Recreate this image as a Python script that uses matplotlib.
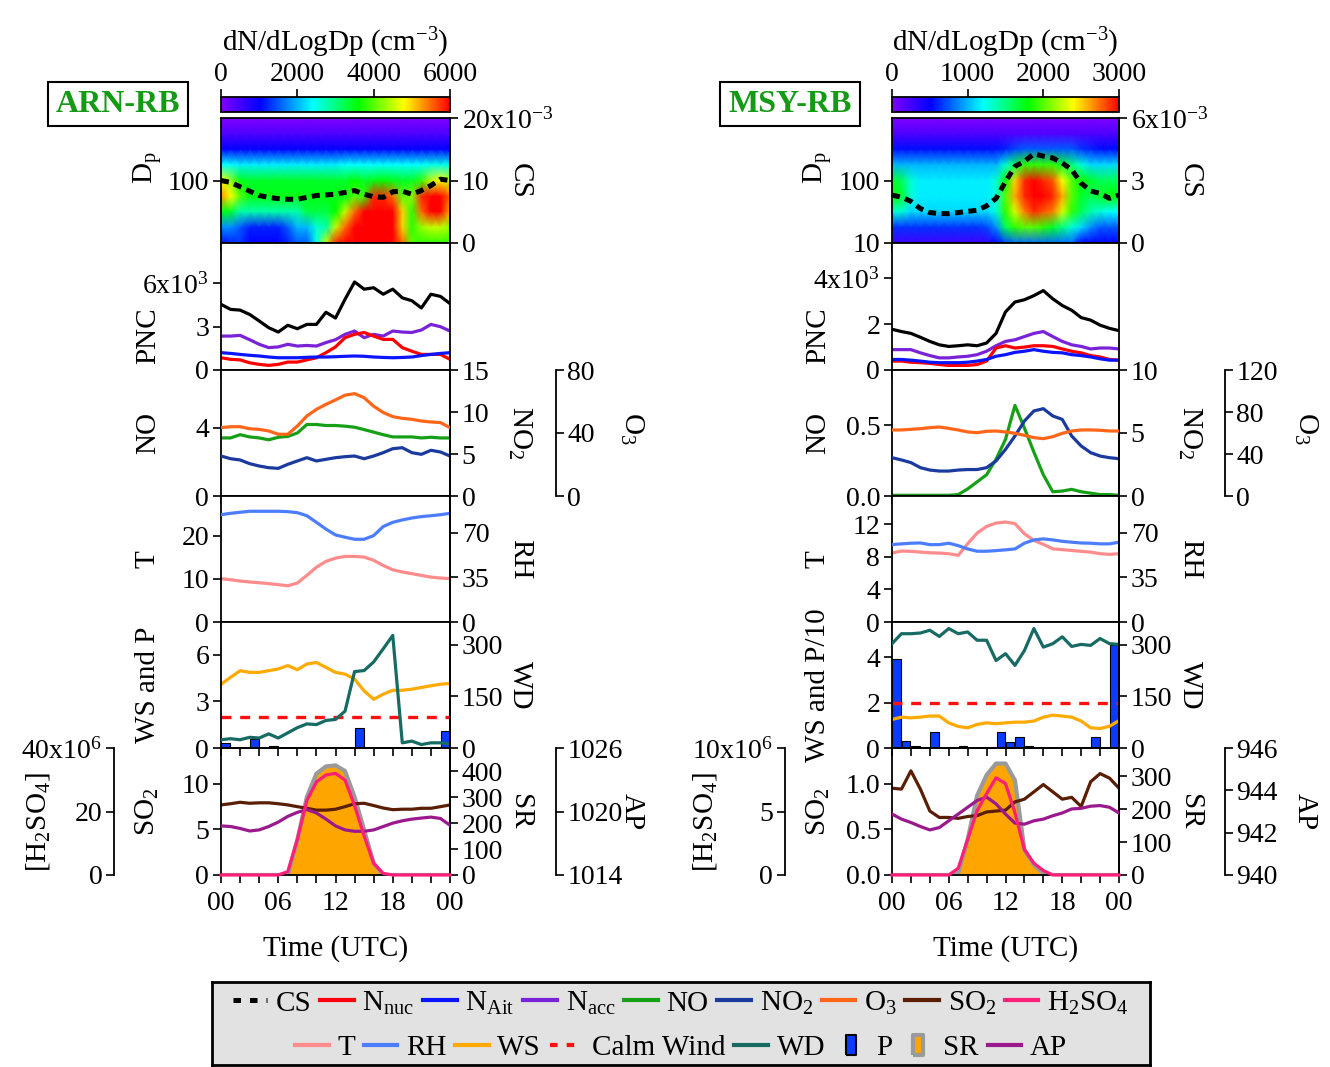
import numpy as np
import matplotlib.pyplot as plt
from matplotlib.colors import LinearSegmentedColormap
from matplotlib.lines import Line2D
from matplotlib.ticker import NullLocator

plt.rcParams['font.family'] = ['Liberation Serif', 'DejaVu Serif']
plt.rcParams['mathtext.fontset'] = 'custom'
plt.rcParams['mathtext.rm'] = 'Liberation Serif'
plt.rcParams['mathtext.it'] = 'Liberation Serif:italic'
plt.rcParams['mathtext.bf'] = 'Liberation Serif:bold'

FS = 20

# time axes (hours UTC)
hours = np.arange(25)
p_hours = np.arange(24)
dp_bins = [10, 18, 32, 56, 100, 180, 320, 560, 1000]

# ---------------- ARN-RB ----------------
# dN/dlogDp (cm-3), rows = dp_bins (small -> large), cols = hours 0..24
arn_dist = [
    [1100, 1200, 1300, 1000, 1000, 1000, 1000, 1200, 1500, 1500, 2500, 4500, 5800, 6000, 6000,
     6000, 6000, 6000, 6000, 5500, 4000, 3800, 3800, 3800, 3800],
    [1800, 1800, 1500, 1200, 1200, 1200, 1200, 1500, 2000, 2000, 2600, 2800, 4500, 5500, 6000,
     6000, 6000, 6000, 6000, 5000, 3800, 4300, 4500, 4500, 4300],
    [3500, 3400, 2800, 2800, 2800, 2800, 2800, 2800, 2800, 3300, 3300, 3300, 3600, 4500, 5500,
     6000, 6000, 6000, 6000, 5000, 3800, 5500, 6000, 6000, 5200],
    [5300, 4800, 4000, 3500, 3500, 3500, 3500, 3500, 3500, 3500, 3500, 3500, 3500, 3500, 4000,
     3800, 5800, 5800, 5500, 4000, 4200, 5800, 6000, 6000, 5500],
    [4800, 4300, 3500, 3400, 3400, 3400, 3400, 3400, 3400, 3400, 3400, 3400, 3400, 3400, 3600,
     3400, 3500, 3600, 3500, 3400, 3400, 3800, 4500, 4800, 4500],
    [2400, 2400, 2300, 2300, 2300, 2300, 2300, 2300, 2300, 2300, 2300, 2300, 2300, 2400, 2400,
     2400, 2400, 2400, 2400, 2400, 2400, 2400, 2500, 2500, 2500],
    [1000, 1000, 1000, 1000, 1000, 1000, 1000, 1000, 1000, 1000, 1000, 1000, 1000, 1000, 1000,
     1000, 1000, 1000, 1000, 1000, 1000, 1000, 1000, 1000, 1000],
    [400, 400, 400, 400, 400, 400, 400, 400, 400, 400, 400, 400, 400, 400, 400,
     400, 400, 400, 400, 400, 400, 400, 400, 400, 400],
    [0, 0, 0, 0, 0, 0, 0, 0, 0, 0, 0, 0, 0, 0, 0, 0, 0, 0, 0, 0, 0, 0, 0, 0, 0],
]
arn_cs = [10.0, 9.7, 9.0, 8.3, 7.6, 7.3, 7.1, 7.0, 7.0, 7.3, 7.6, 7.7, 7.8, 8.1, 8.4,
          7.8, 7.4, 7.3, 8.2, 8.3, 7.8, 8.4, 9.2, 10.2, 10.0]
arn_ntot = [4.55, 4.2, 4.15, 3.85, 3.4, 2.93, 2.63, 3.1, 2.86, 3.16, 3.16, 4.0, 3.6, 4.9, 6.1,
            5.6, 5.7, 5.25, 5.6, 5.0, 4.8, 4.3, 5.25, 5.1, 4.6]
arn_nnuc = [0.85, 0.74, 0.7, 0.5, 0.39, 0.32, 0.39, 0.55, 0.55, 0.7, 0.85, 1.2, 1.6, 2.24, 2.47,
            2.6, 2.35, 2.12, 2.12, 1.55, 1.3, 1.08, 1.08, 1.08, 0.74]
arn_nait = [1.2, 1.15, 1.08, 1.02, 0.97, 0.9, 0.85, 0.85, 0.85, 0.88, 0.9, 0.9, 0.92, 0.95, 0.97,
            0.95, 0.9, 0.87, 0.85, 0.87, 0.9, 1.0, 1.08, 1.15, 1.2]
arn_nacc = [2.35, 2.35, 2.4, 2.1, 1.78, 1.55, 1.6, 1.78, 1.66, 1.7, 1.66, 1.9, 2.1, 2.47, 2.7,
            2.24, 2.47, 2.35, 2.7, 2.63, 2.6, 2.77, 3.16, 3.0, 2.7]
arn_no = [3.41, 3.41, 3.6, 3.47, 3.41, 3.3, 3.45, 3.5, 3.7, 4.2, 4.2, 4.14, 4.14, 4.1, 4.04,
          3.9, 3.75, 3.6, 3.47, 3.47, 3.47, 3.41, 3.45, 3.41, 3.41]
arn_no2 = [4.76, 4.44, 4.29, 3.85, 3.57, 3.37, 3.29, 3.77, 4.17, 4.56, 4.17, 4.37, 4.56, 4.68, 4.76,
           4.44, 4.76, 5.16, 5.63, 5.75, 5.16, 4.96, 5.44, 5.24, 4.76]
arn_o3 = [43.4, 44, 44, 42.7, 42.3, 41.3, 39.2, 39.2, 44.4, 50.8, 55, 58.2, 61, 64, 65,
          62.4, 57, 53, 50.4, 49.3, 48.7, 47.6, 47, 46.6, 43.4]
arn_t = [10.04, 9.8, 9.5, 9.27, 9.1, 8.9, 8.65, 8.4, 9.03, 10.8, 12.7, 14.05, 14.8, 15.2, 15.2,
         15.05, 14.3, 13.1, 12.1, 11.6, 11.2, 10.8, 10.4, 10.2, 10.04]
arn_rh = [84.3, 85.4, 86.2, 87, 87, 87, 87, 86.7, 85.9, 83.5, 78.3, 73, 68.4, 66.6, 65,
          65, 67.9, 75, 78.3, 80.2, 81.7, 82.8, 83.5, 84.3, 85.4]
arn_ws = [4.1, 4.54, 4.97, 4.86, 4.86, 4.97, 5.08, 5.3, 5.03, 5.4, 5.5, 5.18, 4.86, 4.75, 4.43,
          3.67, 3.13, 3.46, 3.71, 3.71, 3.78, 3.89, 4.0, 4.1, 4.15]
arn_wd = [24, 27, 24, 31, 29, 41, 29, 44, 59, 70, 68, 80, 83, 107, 222,
          225, 250, 288, 327, 15, 20, 10, 15, 15, 12]
arn_p = [0.3, 0, 0, 0.55, 0, 0.12, 0, 0, 0, 0, 0, 0, 0, 0, 1.3, 0, 0, 0, 0, 0, 0, 0, 0, 1.1]
arn_so2 = [7.67, 7.8, 7.96, 7.85, 7.9, 7.9, 7.8, 7.67, 7.48, 7.3, 7.1, 7.1, 7.2, 7.48, 7.8,
           7.85, 7.6, 7.33, 7.15, 7.2, 7.2, 7.3, 7.3, 7.48, 7.67]
arn_ap = [1018.64, 1018.58, 1018.4, 1018.16, 1018.26, 1018.58, 1019.0, 1019.54, 1019.92, 1020.18,
          1019.86, 1019.28, 1018.64, 1018.26, 1018.13, 1018.13, 1018.26, 1018.58, 1018.9, 1019.12,
          1019.28, 1019.38, 1019.47, 1019.34, 1018.7]
arn_sr = [0, 0, 0, 0, 0, 0, 0, 0, 135, 301, 391, 419, 423, 401, 301, 173, 45, 0, 0, 0, 0, 0, 0, 0, 0]
arn_h2so4 = [0, 0, 0, 0, 0, 0, 0, 1.07, 11.2, 23.5, 29.3, 31.5, 32, 29.9, 21.9, 12.3, 3.7, 0.5,
             0, 0, 0, 0, 0, 0, 0]

# ---------------- MSY-RB ----------------
msy_dist = [
    [250, 250, 250, 250, 250, 250, 250, 250, 250, 250, 300, 500, 700, 800, 800,
     800, 800, 800, 800, 800, 500, 500, 500, 500, 500],
    [650, 650, 650, 650, 650, 650, 650, 650, 650, 650, 700, 900, 1600, 1900, 2000,
     2000, 1900, 1700, 1500, 1300, 1100, 900, 750, 750, 750],
    [1300, 1300, 1100, 1100, 1100, 1100, 1100, 1100, 1100, 1100, 1100, 1300, 1900, 2300, 2700,
     2900, 2800, 2700, 2300, 1900, 1600, 1400, 1300, 1200, 1200],
    [1800, 1700, 1300, 1150, 1150, 1150, 1150, 1150, 1150, 1150, 1150, 1300, 2000, 2600, 2900,
     3000, 3000, 2900, 2600, 2000, 1700, 1600, 1700, 1800, 1800],
    [1700, 1600, 1300, 1150, 1150, 1150, 1150, 1150, 1150, 1150, 1150, 1300, 1800, 2500, 2900,
     3000, 2900, 2800, 2400, 2000, 1800, 1700, 1600, 1600, 1600],
    [1000, 1000, 1000, 1000, 1000, 1000, 1000, 1000, 1000, 1000, 1000, 1000, 1300, 1600, 1900,
     1900, 1900, 1900, 1700, 1500, 1300, 1100, 1100, 1100, 1100],
    [550, 550, 550, 550, 550, 550, 550, 550, 550, 550, 550, 550, 600, 700, 750,
     750, 750, 750, 750, 750, 650, 600, 550, 550, 550],
    [200, 200, 200, 200, 200, 200, 200, 200, 200, 200, 200, 200, 200, 200, 200,
     200, 200, 200, 200, 200, 200, 200, 200, 200, 200],
    [0, 0, 0, 0, 0, 0, 0, 0, 0, 0, 0, 0, 0, 0, 0, 0, 0, 0, 0, 0, 0, 0, 0, 0, 0],
]
msy_cs = [2.3, 2.2, 2.0, 1.65, 1.46, 1.41, 1.41, 1.46, 1.52, 1.57, 1.78, 2.14, 2.95, 3.68, 3.92,
          4.28, 4.17, 4.08, 3.84, 3.52, 2.87, 2.5, 2.38, 2.14, 2.3]
msy_ntot = [1.78, 1.68, 1.6, 1.43, 1.25, 1.1, 1.03, 1.06, 1.1, 1.06, 1.18, 1.6, 2.54, 2.97, 3.07,
            3.25, 3.47, 3.11, 2.82, 2.61, 2.29, 2.18, 1.96, 1.82, 1.72]
msy_nnuc = [0.39, 0.39, 0.34, 0.32, 0.29, 0.24, 0.2, 0.2, 0.2, 0.24, 0.39, 0.96, 1.06, 0.96, 1.0,
            1.06, 1.06, 1.03, 0.92, 0.82, 0.75, 0.63, 0.57, 0.46, 0.43]
msy_nait = [0.46, 0.46, 0.43, 0.39, 0.34, 0.32, 0.32, 0.32, 0.34, 0.39, 0.46, 0.6, 0.67, 0.77, 0.82,
            0.89, 0.82, 0.77, 0.75, 0.67, 0.63, 0.57, 0.49, 0.43, 0.43]
msy_nacc = [0.89, 0.89, 0.89, 0.75, 0.63, 0.53, 0.53, 0.57, 0.6, 0.67, 0.82, 1.06, 1.25, 1.32, 1.46,
            1.6, 1.68, 1.46, 1.25, 1.1, 1.03, 0.92, 0.96, 0.96, 0.92]
msy_no = [0.005, 0.005, 0.005, 0.005, 0.005, 0.005, 0.005, 0.01, 0.05, 0.1, 0.15, 0.26, 0.4, 0.64,
          0.48, 0.31, 0.15, 0.03, 0.035, 0.047, 0.03, 0.02, 0.01, 0.01, 0.005]
msy_no2 = [3.04, 2.86, 2.65, 2.25, 2.06, 1.98, 1.98, 2.06, 2.1, 2.1, 2.25, 2.78, 3.7, 4.76, 5.95,
           6.75, 6.93, 6.35, 6.08, 4.76, 3.97, 3.44, 3.17, 3.04, 2.96]
msy_o3 = [62.9, 62.9, 63.5, 64.1, 65.1, 65.7, 64.4, 62.9, 61, 60.3, 61.6, 61.9, 61, 59.7, 57.8,
          55.6, 54.6, 56.5, 59.7, 61.9, 62.9, 62.9, 62.6, 61.9, 61.9]
msy_t = [8.48, 8.73, 8.69, 8.6, 8.52, 8.48, 8.4, 8.2, 9.63, 10.94, 11.76, 12.17, 12.3, 12.1, 10.86,
         10.04, 9.55, 9.0, 8.9, 8.8, 8.69, 8.6, 8.4, 8.32, 8.4]
msy_rh = [60.8, 61.4, 61.9, 62.1, 60.8, 60.8, 61.9, 60, 57.4, 55.6, 55.6, 56.1, 56.7, 57.4, 61.9,
          64.5, 65.3, 64.5, 63.4, 62.7, 62.1, 61.9, 61.4, 61.4, 62.7]
msy_ws = [1.26, 1.36, 1.33, 1.36, 1.41, 1.41, 1.11, 0.95, 0.89, 1.04, 1.11, 1.07, 1.11, 1.14, 1.14,
          1.19, 1.36, 1.45, 1.41, 1.36, 1.19, 0.89, 0.86, 0.96, 1.21]
msy_wd = [303, 332, 332, 334, 342, 324, 347, 332, 337, 313, 313, 254, 274, 240, 283,
          347, 293, 303, 323, 295, 301, 298, 318, 303, 301]
msy_p = [3.93, 0.33, 0.1, 0, 0.71, 0, 0, 0.1, 0, 0, 0, 0.71, 0.27, 0.47, 0.1, 0, 0, 0, 0, 0, 0,
         0.47, 0, 4.56]
msy_so2 = [0.95, 0.94, 1.14, 0.94, 0.7, 0.63, 0.63, 0.62, 0.64, 0.65, 0.69, 0.7, 0.71, 0.8, 0.83,
           0.91, 0.99, 0.91, 0.83, 0.85, 0.75, 1.02, 1.11, 1.06, 0.95]
msy_ap = [942.88, 942.64, 942.48, 942.29, 942.13, 942.24, 942.56, 942.88, 943.2, 943.52, 943.68,
          943.36, 942.88, 942.45, 942.4, 942.56, 942.64, 942.8, 942.93, 943.12, 943.15, 943.25,
          943.28, 943.2, 942.93]
msy_sr = [0, 0, 0, 0, 0, 0, 0, 5, 108, 241, 303, 338, 338, 287, 77, 31, 5, 0, 0, 0, 0, 0, 0, 0, 0]
msy_h2so4 = [0, 0, 0, 0, 0, 0, 0, 0.53, 2.8, 5.07, 6.4, 7.65, 7.2, 4.9, 2.0, 0.93, 0.35, 0,
             0, 0, 0, 0, 0, 0, 0]

CALM_WIND = 2.0

C = dict(nnuc='#ff0000', nait='#0a14ff', nacc='#7a22d8', no='#17a017', no2='#1a3a9e',
         o3='#ff6619', so2='#5a1e04', h2so4='#ff1f78', t='#ff8c8c', rh='#4d7dff',
         ws='#ffaa00', calm='#ff1010', wd='#176b63', p='#0a3cff', sr='#ffa500',
         sr_edge='#9a9a9a', ap='#9a1a8e')

rainbow = LinearSegmentedColormap.from_list(
    'rainbow_igor', [(0, '#8000ff'), (0.17, '#0000ff'), (0.4, '#00ffff'), (0.6, '#00ff00'),
                     (0.8, '#ffff00'), (0.9, '#ff8000'), (1, '#ff0000')])

W, H = 1330, 1067
fig = plt.figure(figsize=(W / 100, H / 100), dpi=100)
EDGES = [118, 243, 370, 496, 622, 748, 875]
LW = 2.3


def px_axes(x0, y0, x1, y1):
    return fig.add_axes([x0 / W, 1 - y1 / H, (x1 - x0) / W, (y1 - y0) / H])


def tidy(ax):
    for s in ax.spines.values():
        s.set_linewidth(1.3)
    ax.tick_params(which='both', direction='out', length=5.5, width=1.2, labelsize=FS, pad=3)


def yaxis(ax, lim, ticks, labels=None):
    ax.set_ylim(*lim)
    ax.set_yticks(ticks)
    ax.set_yticklabels(labels if labels else ['%g' % t for t in ticks])


def right_twin(ax, offset=0):
    tw = ax.twinx()
    for name, s in tw.spines.items():
        s.set_visible(name == 'right')
    if offset:
        tw.spines['right'].set_position(('outward', offset))
    tidy(tw)
    return tw


def left_twin(ax, offset):
    tw = ax.twinx()
    for name, s in tw.spines.items():
        s.set_visible(name == 'left')
    tw.spines['left'].set_position(('outward', offset))
    tw.yaxis.set_ticks_position('left')
    tw.yaxis.set_label_position('left')
    tidy(tw)
    return tw


def ylabel(ax, text, x, rot=90, y=0.5):
    ax.set_ylabel(text, fontsize=FS + 1, rotation=rot, va='center', ha='center')
    ax.yaxis.set_label_coords(x, y)


def draw_column(x0, x1, d):
    axs = [px_axes(x0, EDGES[i], x1, EDGES[i + 1]) for i in range(6)]
    for i, ax in enumerate(axs):
        tidy(ax)
        ax.set_xlim(0, 24)
        ax.set_xticks([0, 6, 12, 18, 24])
        ax.set_xticks(np.arange(0, 25, 2), minor=True)
        ax.tick_params(axis='x', labelbottom=(i == 5))
    ax_sp, ax_pnc, ax_no, ax_t, ax_ws, ax_so2 = axs
    ax_so2.set_xticklabels(['00', '06', '12', '18', '00'])
    ax_so2.tick_params(axis='x', pad=6)
    ax_so2.set_xlabel('Time (UTC)', fontsize=FS + 1, labelpad=14)
    lx, rx, ox, hx = d['label_x']

    # size distribution + condensation sink
    mesh = ax_sp.pcolormesh(hours, dp_bins, d['dist'], shading='gouraud',
                            cmap=rainbow, vmin=0, vmax=d['vmax'])
    ax_sp.set_yscale('log')
    ax_sp.set_ylim(10, 1000)
    ax_sp.set_yticks(d['dp_ticks'])
    ax_sp.set_yticklabels([str(t) for t in d['dp_ticks']])
    ax_sp.yaxis.set_minor_locator(NullLocator())
    ylabel(ax_sp, r'D$_\mathrm{p}$', lx, y=0.6)
    ax_cs = right_twin(ax_sp)
    ax_cs.plot(hours, d['cs'], color='k', lw=3.6, ls=(0, (1.6, 1.1)))
    yaxis(ax_cs, *d['cs_axis'])
    ylabel(ax_cs, 'CS', rx, 270)

    cax = px_axes(x0, 97, x1, 112)
    cb = fig.colorbar(mesh, cax=cax, orientation='horizontal', ticks=d['cb_ticks'])
    cax.xaxis.set_ticks_position('top')
    cax.xaxis.set_label_position('top')
    cb.outline.set_linewidth(1.3)
    cax.tick_params(length=5.5, width=1.2, labelsize=FS, pad=2)
    cb.set_label(r'dN/dLogDp (cm$^{-3}$)', fontsize=FS + 1, labelpad=8)

    fig.text(d['tag_x'] / W, 1 - 104 / H, d['tag'], color='#159a15', fontsize=23,
             fontweight='bold', ha='center', va='center',
             bbox=dict(boxstyle='square,pad=0.25', facecolor='white', edgecolor='black', lw=1.5))

    # particle number concentrations
    ax_pnc.plot(hours, d['ntot'], color='k', lw=LW)
    ax_pnc.plot(hours, d['nacc'], color=C['nacc'], lw=LW)
    ax_pnc.plot(hours, d['nnuc'], color=C['nnuc'], lw=LW)
    ax_pnc.plot(hours, d['nait'], color=C['nait'], lw=LW)
    yaxis(ax_pnc, *d['pnc_axis'])
    ylabel(ax_pnc, 'PNC', lx, y=0.27)

    # NO, NO2, O3
    ax_no.plot(hours, d['no'], color=C['no'], lw=LW)
    yaxis(ax_no, *d['no_axis'])
    ylabel(ax_no, 'NO', lx)
    ax_no2 = right_twin(ax_no)
    ax_no2.plot(hours, d['no2'], color=C['no2'], lw=LW)
    yaxis(ax_no2, *d['no2_axis'])
    ylabel(ax_no2, r'NO$_2$', rx, 270)
    ax_o3 = right_twin(ax_no, 76)
    ax_o3.plot(hours, d['o3'], color=C['o3'], lw=LW)
    yaxis(ax_o3, *d['o3_axis'])
    ylabel(ax_o3, r'O$_3$', ox, 270, y=0.54)

    # T and RH
    ax_t.plot(hours, d['t'], color=C['t'], lw=LW)
    yaxis(ax_t, *d['t_axis'])
    ylabel(ax_t, 'T', lx)
    ax_rh = right_twin(ax_t)
    ax_rh.plot(hours, d['rh'], color=C['rh'], lw=LW)
    yaxis(ax_rh, (0, 99), [0, 35, 70])
    ylabel(ax_rh, 'RH', rx, 270)

    # wind and precipitation
    ax_ws.bar(p_hours + 0.05, d['p'], width=0.9, align='edge', color=C['p'],
              edgecolor='k', lw=0.8)
    ax_ws.axhline(CALM_WIND, color=C['calm'], lw=2.4, ls=(0, (3, 2.6)))
    ax_ws.plot(hours, d['ws'], color=C['ws'], lw=LW)
    yaxis(ax_ws, *d['ws_axis'])
    ylabel(ax_ws, d['ws_label'], lx)
    ax_wd = right_twin(ax_ws)
    ax_wd.plot(hours, d['wd'], color=C['wd'], lw=LW)
    yaxis(ax_wd, (0, 366), [0, 150, 300])
    ylabel(ax_wd, 'WD', rx, 270)

    # SO2, H2SO4, SR, AP
    ax_sr = right_twin(ax_so2)
    ax_sr.fill_between(hours, d['sr'], color=C['sr'], lw=0)
    ax_sr.plot(hours, d['sr'], color=C['sr_edge'], lw=3)
    yaxis(ax_sr, *d['sr_axis'])
    ylabel(ax_sr, 'SR', rx, 270)
    ax_so2.set_zorder(ax_sr.get_zorder() + 1)
    ax_so2.patch.set_visible(False)
    ax_so2.plot(hours, d['so2'], color=C['so2'], lw=LW)
    yaxis(ax_so2, *d['so2_axis'])
    ylabel(ax_so2, r'SO$_2$', lx)
    ax_ap = right_twin(ax_so2, 76)
    ax_ap.set_zorder(ax_so2.get_zorder() + 1)
    ax_ap.plot(hours, d['ap'], color=C['ap'], lw=LW)
    yaxis(ax_ap, *d['ap_axis'])
    ylabel(ax_ap, 'AP', ox, 270)
    ax_h = left_twin(ax_so2, 77)
    ax_h.set_zorder(ax_ap.get_zorder() + 1)
    ax_h.plot(hours, d['h2so4'], color=C['h2so4'], lw=LW, clip_on=False)
    yaxis(ax_h, *d['h2so4_axis'])
    ylabel(ax_h, r'[H$_2$SO$_4$]', hx, y=0.42)


draw_column(221, 450, dict(
    dist=arn_dist, vmax=6000, cb_ticks=[0, 2000, 4000, 6000], dp_ticks=[100],
    cs=arn_cs, cs_axis=((0, 20), [0, 10, 20], ['0', '10', r'20x10$^{-3}$']),
    ntot=arn_ntot, nnuc=arn_nnuc, nait=arn_nait, nacc=arn_nacc,
    pnc_axis=((0, 8.8), [0, 3, 6], ['0', '3', r'6x10$^3$']),
    no=arn_no, no_axis=((0, 7.4), [0, 4]),
    no2=arn_no2, no2_axis=((0, 15), [0, 5, 10, 15]),
    o3=arn_o3, o3_axis=((0, 80), [0, 40, 80]),
    t=arn_t, t_axis=((0, 29.2), [0, 10, 20]), rh=arn_rh,
    ws=arn_ws, wd=arn_wd, p=arn_p, ws_axis=((0, 8.1), [0, 3, 6]), ws_label='WS and P',
    so2=arn_so2, so2_axis=((0, 13.9), [0, 5, 10]),
    sr=arn_sr, sr_axis=((0, 490), [0, 100, 200, 300, 400]),
    ap=arn_ap, ap_axis=((1014, 1026), [1014, 1020, 1026]),
    h2so4=arn_h2so4, h2so4_axis=((0, 40), [0, 20, 40], ['0', '20', r'40x10$^6$']),
    label_x=(-0.32, 1.305, 1.795, -0.80), tag='ARN-RB', tag_x=118))

draw_column(892, 1119, dict(
    dist=msy_dist, vmax=3000, cb_ticks=[0, 1000, 2000, 3000], dp_ticks=[10, 100],
    cs=msy_cs, cs_axis=((0, 6), [0, 3, 6], ['0', '3', r'6x10$^{-3}$']),
    ntot=msy_ntot, nnuc=msy_nnuc, nait=msy_nait, nacc=msy_nacc,
    pnc_axis=((0, 5.55), [0, 2, 4], ['0', '2', r'4x10$^3$']),
    no=msy_no, no_axis=((0, 0.89), [0, 0.5], ['0.0', '0.5']),
    no2=msy_no2, no2_axis=((0, 10), [0, 5, 10]),
    o3=msy_o3, o3_axis=((0, 120), [0, 40, 80, 120]),
    t=msy_t, t_axis=((0, 15.5), [0, 4, 8, 12]), rh=msy_rh,
    ws=msy_ws, wd=msy_wd, p=msy_p, ws_axis=((0, 5.56), [0, 2, 4]), ws_label='WS and P/10',
    so2=msy_so2, so2_axis=((0, 1.39), [0, 0.5, 1.0], ['0.0', '0.5', '1.0']),
    sr=msy_sr, sr_axis=((0, 385), [0, 100, 200, 300]),
    ap=msy_ap, ap_axis=((940, 946), [940, 942, 944, 946]),
    h2so4=msy_h2so4, h2so4_axis=((0, 10), [0, 5, 10], ['0', '5', r'10x10$^6$']),
    label_x=(-0.326, 1.313, 1.82, -0.824), tag='MSY-RB', tag_x=790))

# shared legend
lax = px_axes(212, 982, 1150, 1065)
lax.set_facecolor('#e2e2e2')
lax.set_xticks([])
lax.set_yticks([])
for s in lax.spines.values():
    s.set_linewidth(2)

bar_marker = [(-0.5, -1), (0.5, -1), (0.5, 1), (-0.5, 1), (-0.5, -1)]
row1 = [Line2D([], [], color='k', lw=3.6, ls=(0, (1.5, 1.8))),
        Line2D([], [], color=C['nnuc'], lw=3),
        Line2D([], [], color=C['nait'], lw=3),
        Line2D([], [], color=C['nacc'], lw=3),
        Line2D([], [], color=C['no'], lw=3),
        Line2D([], [], color=C['no2'], lw=3),
        Line2D([], [], color=C['o3'], lw=3),
        Line2D([], [], color=C['so2'], lw=3),
        Line2D([], [], color=C['h2so4'], lw=3)]
labels1 = ['CS', r'N$_\mathrm{nuc}$', r'N$_\mathrm{Ait}$', r'N$_\mathrm{acc}$', 'NO',
           r'NO$_2$', r'O$_3$', r'SO$_2$', r'H$_2$SO$_4$']
row2 = [Line2D([], [], color=C['t'], lw=3),
        Line2D([], [], color=C['rh'], lw=3),
        Line2D([], [], color=C['ws'], lw=3),
        Line2D([], [], color=C['calm'], lw=3, ls=(0, (1.8, 2.2))),
        Line2D([], [], color=C['wd'], lw=3),
        Line2D([], [], ls='none', marker=bar_marker, markersize=15, markerfacecolor=C['p'],
               markeredgecolor='k', markeredgewidth=1.5),
        Line2D([], [], ls='none', marker=bar_marker, markersize=15, markerfacecolor=C['sr'],
               markeredgecolor=C['sr_edge'], markeredgewidth=3),
        Line2D([], [], color=C['ap'], lw=3)]
labels2 = ['T', 'RH', 'WS', 'Calm Wind', 'WD', 'P', 'SR', 'AP']

opts = dict(frameon=False, fontsize=21, handlelength=1.15, handletextpad=0.3,
            columnspacing=0.3, borderaxespad=0)
leg1 = lax.legend(row1, labels1, ncol=9, loc='upper center', bbox_to_anchor=(0.5, 1.05), **opts)
lax.add_artist(leg1)
lax.legend(row2, labels2, ncol=8, loc='lower center', bbox_to_anchor=(0.5, -0.09), **opts)

fig.savefig('out.png', dpi=100)
